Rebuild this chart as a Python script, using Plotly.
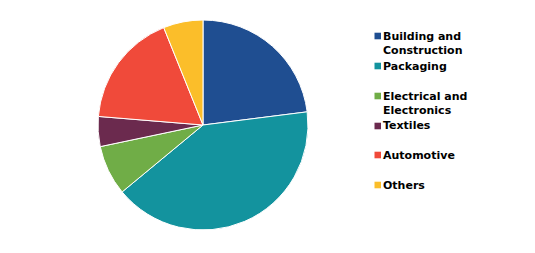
import plotly.graph_objects as go

labels = ["Building and<br>Construction", "Packaging", "Electrical and<br>Electronics",
          "Textiles", "Automotive", "Others"]
values = [23.0, 41.0, 7.7, 4.6, 17.6, 6.1]
colors = ["#1F4E91", "#13939E", "#70AD47", "#6B2A4E", "#F04A3A", "#FBBE2A"]

W, H = 535, 253
cx, cy, r = 203, 125, 105

fig = go.Figure(go.Pie(
    labels=labels, values=values, sort=False, direction="clockwise", rotation=0,
    marker=dict(colors=colors, line=dict(color="white", width=1)),
    textinfo="none", hoverinfo="label+percent", showlegend=False,
    domain=dict(x=[(cx - r) / W, (cx + r) / W], y=[(H - cy - r) / H, (H - cy + r) / H]),
))

# custom legend
leg_y = [36, 66, 96, 126, 155, 185]
for lab, col, y in zip(labels, colors, leg_y):
    fig.add_shape(type="rect", xref="paper", yref="paper",
                  x0=374.5 / W, x1=381 / W, y0=(H - y - 3.3) / H, y1=(H - y + 3.3) / H,
                  fillcolor=col, line=dict(width=0))
    fig.add_annotation(xref="paper", yref="paper", x=382 / W, y=(H - y + 7.5) / H,
                       xanchor="left", yanchor="top", align="left", showarrow=False,
                       text="<b>" + lab + "</b>", borderpad=0,
                       font=dict(family="DejaVu Sans", size=11, color="#000000"))

fig.update_layout(width=W, height=H, margin=dict(l=0, r=0, t=0, b=0),
                  paper_bgcolor="white", plot_bgcolor="white")
fig.write_html("out.html")
